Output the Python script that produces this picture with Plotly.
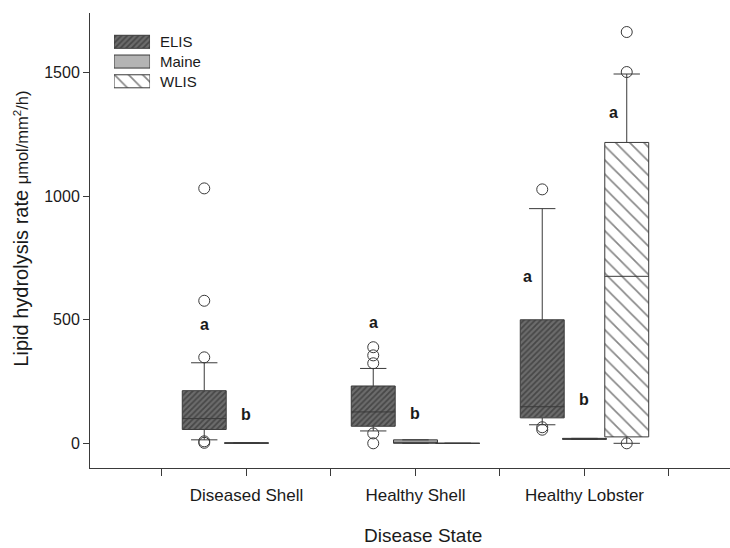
import plotly.graph_objects as go

# ---- data -------------------------------------------------------------
categories = ["Diseased Shell", "Healthy Shell", "Healthy Lobster"]
series = ["ELIS", "Maine", "WLIS"]

elis_q1 = [56, 69, 103]
elis_median = [100, 127, 148]
elis_q3 = [213, 232, 500]
elis_lower = [14, 50, 75]
elis_upper = [326, 303, 950]
elis_outliers = [[1032, 577, 348, 8, 2], [389, 356, 324, 40, 0], [1028, 65, 55]]

maine_q1 = [0, 0, 16]
maine_median = [1, 2, 18]
maine_q3 = [2, 14, 20]
maine_lower = [0, 0, 16]
maine_upper = [2, 14, 20]
maine_outliers = [[], [], []]

wlis_q1 = [None, 0, 26]
wlis_median = [None, 0, 676]
wlis_q3 = [None, 0, 1218]
wlis_lower = [None, 0, 0]
wlis_upper = [None, 0, 1495]
wlis_outliers = [[], [], [1665, 1503, 0]]

# significance letters: text, category index, series, value
sig_text = ["a", "b", "a", "b", "a", "b", "a"]
sig_cat = [0, 0, 1, 1, 2, 2, 2]
sig_series = ["ELIS", "Maine", "ELIS", "Maine", "ELIS", "Maine", "WLIS"]
sig_value = [481, 116, 489, 120, 676, 177, 1340]

# ---- styling ------------------------------------------------------------
FONT = "Liberation Sans, Arial, sans-serif"
LINE = "#3a3a3a"
TXT = "#1a1a1a"
offset = {"ELIS": -0.25, "Maine": 0.0, "WLIS": 0.25}
BOX_W = 0.26
sig_shift = [0, 0, 0, 0, -15, 0, -13]

patterns = {
    "ELIS": dict(color="#666666", pattern=dict(shape="/", fgcolor="#222222",
                                               bgcolor="#6c6c6c", size=4, solidity=0.45)),
    "Maine": dict(color="#b4b4b4"),
    "WLIS": dict(color="white", pattern=dict(shape="\\", fgcolor="#111111",
                                             bgcolor="white", size=10, solidity=0.17)),
}

stats = {
    "ELIS": (elis_q1, elis_median, elis_q3, elis_lower, elis_upper, elis_outliers),
    "Maine": (maine_q1, maine_median, maine_q3, maine_lower, maine_upper, maine_outliers),
    "WLIS": (wlis_q1, wlis_median, wlis_q3, wlis_lower, wlis_upper, wlis_outliers),
}

fig = go.Figure()

for s in series:
    q1, med, q3, lo, hi, outs = stats[s]
    idx = [i for i in range(len(categories)) if q1[i] is not None]
    pos = [i + offset[s] for i in idx]
    # patterned fill of each box
    fig.add_trace(go.Bar(
        x=pos, y=[q3[i] - q1[i] for i in idx], base=[q1[i] for i in idx],
        width=BOX_W, marker=dict(line=dict(width=0), **patterns[s]),
        showlegend=False, hoverinfo="skip"))
    # box outline, median and whiskers
    fig.add_trace(go.Box(
        x=pos, q1=[q1[i] for i in idx], median=[med[i] for i in idx],
        q3=[q3[i] for i in idx], lowerfence=[lo[i] for i in idx],
        upperfence=[hi[i] for i in idx], width=BOX_W, whiskerwidth=0.6,
        fillcolor="rgba(0,0,0,0)", line=dict(color=LINE, width=1),
        boxpoints=False, showlegend=False, name=s))
    # outlying points
    ox, oy = [], []
    for i, vals in enumerate(outs):
        for v in vals:
            ox.append(i + offset[s])
            oy.append(v)
    if ox:
        fig.add_trace(go.Scatter(
            x=ox, y=oy, mode="markers", showlegend=False,
            marker=dict(symbol="circle-open", size=11, color=LINE,
                        line=dict(width=1, color=LINE))))

# legend keys drawn on a small overlay axis
for s in series:
    fig.add_trace(go.Bar(
        x=[1], y=[s], orientation="h", width=0.66, base=0,
        marker=dict(line=dict(width=1, color=LINE), **patterns[s]),
        xaxis="x2", yaxis="y2", showlegend=False, hoverinfo="skip"))

annotations = []
for s in series:
    annotations.append(dict(x=1, y=s, xref="x2", yref="y2", text=s,
                            showarrow=False, xanchor="left", xshift=8,
                            font=dict(family=FONT, size=15, color=TXT)))

for t, c, s, v, sh in zip(sig_text, sig_cat, sig_series, sig_value, sig_shift):
    annotations.append(dict(x=c + offset[s], y=v, text="<b>%s</b>" % t,
                            showarrow=False, xshift=sh,
                            font=dict(family=FONT, size=16, color=TXT)))

annotations.append(dict(
    x=-0.107, y=0.525, xref="paper", yref="paper", textangle=-90,
    showarrow=False, xanchor="center", yanchor="middle",
    text="Lipid hydrolysis rate <span style='font-size:16.5px'>\u03bcmol/mm<sup>2</sup>/h)</span>",
    font=dict(family=FONT, size=20, color=TXT)))
annotations.append(dict(
    x=0.52, y=-0.149, xref="paper", yref="paper", showarrow=False,
    xanchor="center", yanchor="middle", text="Disease State",
    font=dict(family=FONT, size=19, color=TXT)))

tick_pos = [-0.5, 0, 0.5, 1, 1.5, 2, 2.5]
tick_txt = ["", categories[0], "", categories[1], "", categories[2], ""]

fig.update_layout(
    width=730, height=548,
    margin=dict(l=90, r=0, t=13, b=80),
    paper_bgcolor="white", plot_bgcolor="white",
    barmode="overlay", boxmode="overlay", showlegend=False,
    font=dict(family=FONT, color=TXT),
    xaxis=dict(type="linear", range=[-0.926, 2.861], tickvals=tick_pos,
               ticktext=tick_txt, ticks="outside", ticklen=7, tickcolor=LINE,
               showline=True, linecolor=LINE, linewidth=1, showgrid=False,
               zeroline=False, ticklabelstandoff=5,
               tickfont=dict(family=FONT, size=17, color=TXT)),
    yaxis=dict(range=[-100, 1742], tickvals=[0, 500, 1000, 1500],
               ticks="outside", ticklen=6, tickcolor=LINE, showline=True,
               linecolor=LINE, linewidth=1, showgrid=False, zeroline=False,
               tickfont=dict(family=FONT, size=16, color=TXT)),
    xaxis2=dict(domain=[0.0375, 0.0938], range=[0, 1], anchor="y2",
                visible=False, fixedrange=True),
    yaxis2=dict(domain=[0.8282, 0.9584], type="category",
                categoryorder="array", categoryarray=series,
                range=[2.5, -0.5], anchor="x2", visible=False, fixedrange=True),
    annotations=annotations,
)

fig.write_html("out.html")
